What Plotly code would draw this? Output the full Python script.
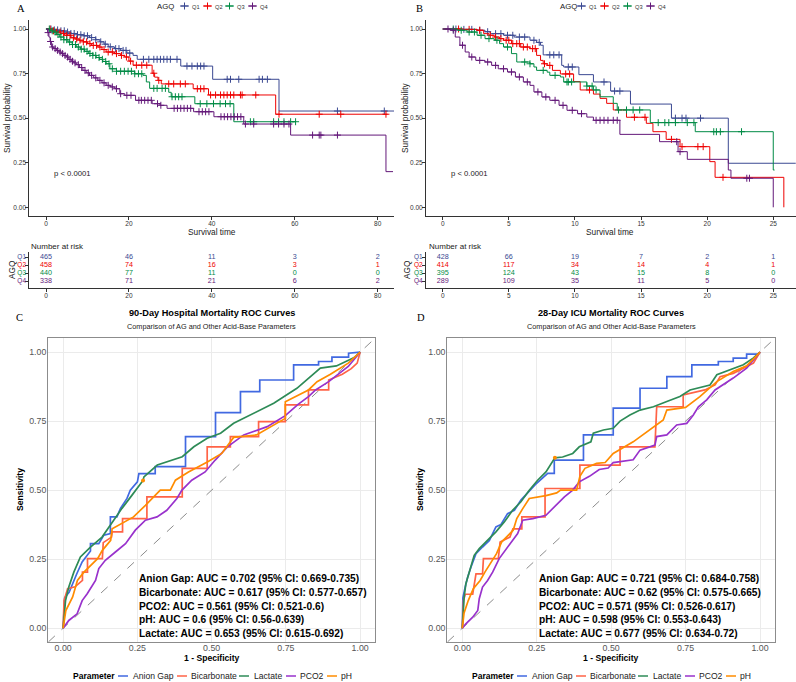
import numpy as np
import plotly.graph_objects as go

W, H = 796, 682
SANS = "Liberation Sans, Arial, sans-serif"
SERIF = "Liberation Serif, Times New Roman, serif"

# ---------------- groups ----------------
q_names = ["Q1", "Q2", "Q3", "Q4"]
q_colors = ["#3B4992", "#EE0000", "#008B45", "#631879"]

# ---------------- Panel A: KM (survival time up to ~84) ----------------
a_q1_time = [0, 1.5, 3, 4.5, 6, 7.5, 9, 10.5, 12, 13, 14, 15, 16.5, 18, 19.5, 21, 22, 32.5, 40.2, 56.2]
a_q1_surv = [1.0, 0.995, 0.99, 0.983, 0.975, 0.968, 0.962, 0.952, 0.94, 0.928, 0.915, 0.9, 0.89, 0.88, 0.865, 0.852, 0.83, 0.792, 0.718, 0.54]
a_q1_end = 84.0
a_q1_cens = [1.2, 2.0, 2.8, 3.6, 4.4, 5.2, 6.0, 6.8, 7.6, 8.4, 9.2, 10.0, 11.0, 12.0, 13.2, 14.3, 15.5, 16.8, 17.6, 18.6, 19.3, 20.2,
             23.5, 24.8, 26.0, 26.8, 27.6, 28.4, 29.2, 30.0, 31.6, 34.0, 35.2, 36.5, 37.3, 38.1, 43.7, 44.5, 46.5, 51.4, 52.2, 53.4, 70.3, 81.6]

a_q2_time = [0, 1.5, 2.5, 3.5, 4.5, 6, 7, 8, 9, 10, 11, 12.5, 13.5, 14.5, 16.5, 18, 19, 20, 21, 25.6, 26.2, 27, 27.8, 35.5, 39.2, 55.4]
a_q2_surv = [1, 0.99, 0.983, 0.975, 0.965, 0.951, 0.944, 0.937, 0.928, 0.918, 0.908, 0.899, 0.885, 0.871, 0.862, 0.852, 0.843, 0.82, 0.797, 0.752, 0.73, 0.712, 0.692, 0.665, 0.63, 0.522]
a_q2_end = 82.4
a_q2_cens = [1.0, 1.8, 2.6, 3.4, 4.2, 5.0, 5.8, 6.6, 7.4, 8.2, 9.0, 9.8, 10.6, 11.4, 12.2, 13.0, 14.0, 15.0, 16.0, 17.0, 18.2, 19.4, 20.4,
             21.8, 23.1, 24.3, 26.0, 27.2, 29.6, 30.8, 32.4, 33.6, 36.5, 37.3, 38.1, 39.7, 40.9, 42.1, 42.9, 43.7, 44.5, 45.3, 46.9, 47.3,
             50.6, 56.2, 65.9, 71.1, 82.0]

a_q3_time = [0, 1, 1.7, 2.5, 3.3, 4.3, 5.3, 6.3, 7.3, 8.3, 9.3, 10.3, 11.3, 12.1, 12.9, 13.7, 14.5, 15.4, 17, 21.4, 23.4, 24.2, 25, 29.6, 30.2, 35.9, 45.3]
a_q3_surv = [1, 0.99, 0.983, 0.97, 0.955, 0.94, 0.927, 0.913, 0.899, 0.887, 0.875, 0.863, 0.852, 0.84, 0.83, 0.818, 0.805, 0.777, 0.763, 0.749, 0.74, 0.703, 0.667, 0.645, 0.62, 0.581, 0.48]
a_q3_end = 60.2
a_q3_cens = [0.8, 1.5, 2.2, 2.9, 3.6, 4.3, 5.0, 5.7, 6.4, 7.1, 7.8, 8.5, 9.2, 9.9, 10.6, 11.3, 12.0, 12.8, 13.6, 14.4, 15.2, 16.0, 17.0,
             18.0, 18.9, 19.8, 20.6, 21.4, 22.3, 23.1, 26.0, 26.8, 28.0, 28.8, 30.4, 31.2, 32.0, 32.8, 37.2, 38.8, 40.4, 42.0, 43.3, 44.4,
             49.3, 50.1, 54.9, 56.1, 57.4, 59.0, 60.2]

a_q4_time = [0, 0.4, 0.7, 1.0, 1.3, 1.9, 2.5, 3.1, 3.7, 4.3, 4.9, 5.5, 6.1, 6.7, 7.3, 8.1, 8.9, 9.7, 10.5, 11.5, 12.5, 13.5, 14.5, 15.5, 16.6, 17.8, 19, 21.6, 25.6, 27.5, 29.2, 35.6, 40.5, 47.7, 59, 82]
a_q4_surv = [1, 0.98, 0.955, 0.93, 0.899, 0.89, 0.88, 0.871, 0.862, 0.852, 0.843, 0.83, 0.819, 0.81, 0.8, 0.784, 0.768, 0.754, 0.74, 0.726, 0.712, 0.698, 0.684, 0.675, 0.665, 0.637, 0.628, 0.6, 0.581, 0.572, 0.555, 0.536, 0.508, 0.467, 0.405, 0.2]
a_q4_end = 83.7
a_q4_cens = [0.5, 1.1, 1.6, 2.2, 2.8, 3.4, 4.0, 4.6, 5.2, 5.8, 6.4, 7.0, 7.8, 8.6, 9.4, 10.2, 11.0, 12.0, 13.0, 14.0, 15.0, 16.0, 17.0,
             18.0, 19.5, 20.5, 22.4, 23.0, 23.8, 24.6, 25.4, 26.9, 27.7, 30.9, 31.7, 32.5, 33.3, 34.1, 34.9, 36.9, 37.7, 38.5, 39.3,
             42.2, 43.0, 43.8, 44.6, 45.4, 46.2, 47.0, 48.1, 50.1, 54.9, 56.1, 57.4, 58.6, 64.3, 65.9, 66.3, 70.3]

a_risk_times = [0, 20, 40, 60, 80]
a_risk_q1 = [465, 46, 11, 3, 2]
a_risk_q2 = [458, 74, 16, 3, 1]
a_risk_q3 = [440, 77, 11, 0, 0]
a_risk_q4 = [338, 71, 21, 6, 2]

# ---------------- Panel B: KM (survival time up to ~26) ----------------
b_q1_time = [0, 1.5, 2.6, 3.2, 3.6, 4.6, 5.4, 6.6, 7.1, 7.4, 7.6, 9.0, 9.15, 10.3, 11.4, 12.7, 14.2, 17.3, 21.6]
b_q1_surv = [1, 0.998, 0.993, 0.985, 0.974, 0.965, 0.955, 0.937, 0.925, 0.909, 0.855, 0.796, 0.787, 0.744, 0.703, 0.652, 0.579, 0.5, 0.247]
b_q1_end = 26.7
b_q1_cens = [1.0, 1.6, 2.2, 2.8, 3.4, 4.0, 4.4, 4.9, 5.3, 5.8, 6.2, 6.9, 7.3, 8.1, 8.4, 8.8, 9.5, 9.8, 12.2, 13.0, 13.4, 17.6, 18.1, 18.4, 19.5]

b_q2_time = [0, 1.6, 2.6, 3.1, 3.5, 3.9, 4.3, 4.6, 5.2, 5.9, 6.6, 7.1, 7.4, 7.6, 7.9, 8.3, 8.9, 9.9, 10.4, 11.4, 11.9, 12.4, 12.9, 13.9, 15.4, 15.9, 16.9, 17.95, 20.2, 20.6, 25.8]
b_q2_surv = [1, 0.998, 0.993, 0.974, 0.965, 0.955, 0.946, 0.937, 0.918, 0.899, 0.89, 0.852, 0.824, 0.805, 0.796, 0.768, 0.748, 0.705, 0.658, 0.635, 0.611, 0.583, 0.546, 0.505, 0.471, 0.424, 0.381, 0.34, 0.256, 0.168, 0.0]
b_q2_end = 25.8
b_q2_cens = [1.2, 2.0, 2.8, 3.6, 4.0, 4.4, 4.8, 5.0, 5.3, 5.6, 5.8, 6.1, 6.4, 6.8, 7.0, 7.7, 8.1, 9.3, 9.6, 11.1, 14.5, 15.3, 17.3, 18.1, 19.3, 19.7, 21.2]

b_q3_time = [0, 1.1, 1.85, 2.6, 3.2, 3.9, 4.3, 4.6, 5.2, 5.6, 6.6, 6.9, 7.1, 7.9, 8.1, 8.9, 9.15, 10.9, 11.4, 11.9, 12.9, 13.2, 15.7, 19.1, 25.0]
b_q3_surv = [1, 0.993, 0.983, 0.965, 0.946, 0.937, 0.918, 0.899, 0.862, 0.815, 0.805, 0.787, 0.768, 0.758, 0.74, 0.731, 0.703, 0.68, 0.658, 0.62, 0.583, 0.546, 0.475, 0.424, 0.209]
b_q3_end = 25.1
b_q3_cens = [0.8, 1.4, 2.0, 2.4, 2.9, 3.5, 4.1, 4.9, 6.2, 6.6, 7.6, 8.5, 9.4, 9.5, 9.75, 10.9, 11.3, 11.6, 13.3, 13.9, 14.4, 14.9,
             16.3, 16.8, 17.1, 17.6, 18.5, 19.0, 20.5, 20.7, 21.0, 22.6]

b_q4_time = [0, 0.6, 0.95, 1.3, 1.7, 2.0, 2.5, 3.2, 3.7, 4.2, 4.9, 5.5, 6.1, 6.6, 6.9, 7.5, 8.1, 8.8, 9.4, 10.2, 10.9, 11.4, 13.4, 16.4, 17.8, 18.5, 21.6, 21.8, 25.0]
b_q4_surv = [1, 0.993, 0.955, 0.909, 0.871, 0.843, 0.824, 0.815, 0.796, 0.777, 0.759, 0.731, 0.703, 0.684, 0.647, 0.619, 0.6, 0.572, 0.544, 0.525, 0.506, 0.488, 0.409, 0.368, 0.312, 0.269, 0.209, 0.163, 0.0]
b_q4_end = 25.0
b_q4_cens = [0.4, 0.8, 1.5, 2.2, 2.8, 3.4, 4.0, 4.6, 5.2, 5.8, 6.4, 7.2, 7.8, 8.5, 9.1, 9.8, 10.5, 11.6, 11.9, 12.2, 12.5, 12.9, 13.2, 17.7, 17.95, 23.0, 23.2]

b_risk_times = [0, 5, 10, 15, 20, 25]
b_risk_q1 = [428, 66, 19, 7, 2, 1]
b_risk_q2 = [414, 117, 34, 14, 4, 1]
b_risk_q3 = [395, 124, 43, 15, 8, 0]
b_risk_q4 = [289, 109, 35, 11, 5, 0]

# ---------------- ROC curves ----------------
roc_names = ["Anion Gap", "Bicarbonate", "Lactate", "PCO2", "pH"]
roc_colors = ["#4169E1", "#FF6347", "#2E8B57", "#9932CC", "#FF8C00"]

c_ag_x = [0, 0.005, 0.02, 0.035, 0.047, 0.064, 0.092, 0.092, 0.12, 0.137, 0.159, 0.159, 0.181, 0.193, 0.215, 0.226, 0.25, 0.255, 0.31, 0.31, 0.412, 0.412, 0.513, 0.513, 0.597, 0.597, 0.662, 0.662, 0.776, 0.776, 0.86, 0.86, 0.905, 0.905, 0.961, 0.961, 1.0]
c_ag_y = [0, 0.11, 0.13, 0.17, 0.20, 0.24, 0.28, 0.306, 0.306, 0.337, 0.343, 0.403, 0.403, 0.434, 0.47, 0.5, 0.53, 0.56, 0.56, 0.585, 0.585, 0.694, 0.694, 0.781, 0.781, 0.857, 0.857, 0.899, 0.899, 0.954, 0.954, 0.966, 0.966, 0.982, 0.982, 0.996, 1.0]
c_bic_x = [0, 0.003, 0.015, 0.04, 0.065, 0.065, 0.082, 0.082, 0.132, 0.135, 0.163, 0.165, 0.2, 0.2, 0.282, 0.282, 0.401, 0.401, 0.485, 0.485, 0.563, 0.563, 0.658, 0.658, 0.748, 0.748, 0.826, 0.826, 0.894, 0.894, 0.94, 0.97, 0.99, 1.0]
c_bic_y = [0, 0.1, 0.143, 0.15, 0.173, 0.203, 0.203, 0.252, 0.252, 0.31, 0.33, 0.349, 0.349, 0.397, 0.397, 0.476, 0.476, 0.579, 0.579, 0.657, 0.657, 0.694, 0.694, 0.748, 0.748, 0.809, 0.809, 0.863, 0.863, 0.899, 0.92, 0.94, 0.96, 1.0]
c_lac_x = [0, 0.008, 0.019, 0.036, 0.058, 0.092, 0.131, 0.165, 0.198, 0.232, 0.269, 0.272, 0.317, 0.401, 0.44, 0.485, 0.53, 0.574, 0.642, 0.709, 0.787, 0.866, 0.92, 0.96, 0.98, 1.0]
c_lac_y = [0, 0.1, 0.149, 0.203, 0.258, 0.294, 0.33, 0.385, 0.434, 0.482, 0.535, 0.548, 0.591, 0.621, 0.657, 0.688, 0.706, 0.742, 0.778, 0.815, 0.869, 0.942, 0.95, 0.97, 0.98, 1.0]
c_pco2_x = [0, 0.019, 0.047, 0.064, 0.081, 0.109, 0.12, 0.142, 0.176, 0.21, 0.243, 0.277, 0.316, 0.349, 0.383, 0.4, 0.433, 0.478, 0.512, 0.553, 0.608, 0.687, 0.748, 0.79, 0.826, 0.85, 0.894, 0.96, 1.0]
c_pco2_y = [0, 0.028, 0.052, 0.1, 0.125, 0.173, 0.216, 0.246, 0.276, 0.306, 0.355, 0.391, 0.403, 0.427, 0.47, 0.5, 0.536, 0.566, 0.609, 0.657, 0.7, 0.73, 0.77, 0.81, 0.839, 0.863, 0.893, 0.948, 1.0]
c_ph_x = [0, 0.009, 0.032, 0.048, 0.07, 0.116, 0.132, 0.16, 0.165, 0.2, 0.237, 0.277, 0.327, 0.361, 0.378, 0.422, 0.487, 0.534, 0.574, 0.651, 0.748, 0.748, 0.826, 0.855, 0.9, 0.96, 1.0]
c_ph_y = [0, 0.064, 0.113, 0.173, 0.203, 0.252, 0.282, 0.318, 0.36, 0.38, 0.403, 0.445, 0.5, 0.5, 0.536, 0.566, 0.603, 0.633, 0.691, 0.7, 0.76, 0.82, 0.863, 0.893, 0.92, 0.96, 1.0]
c_best_point = [0.269, 0.535]

d_ag_x = [0, 0.002, 0.01, 0.018, 0.029, 0.046, 0.068, 0.091, 0.113, 0.13, 0.152, 0.175, 0.197, 0.22, 0.245, 0.287, 0.309, 0.309, 0.407, 0.407, 0.507, 0.507, 0.597, 0.597, 0.687, 0.687, 0.771, 0.771, 0.86, 0.86, 0.91, 0.91, 0.955, 0.955, 0.994, 1.0]
d_ag_y = [0, 0.11, 0.15, 0.185, 0.221, 0.27, 0.294, 0.318, 0.367, 0.376, 0.415, 0.427, 0.464, 0.49, 0.52, 0.561, 0.561, 0.609, 0.609, 0.7, 0.7, 0.797, 0.797, 0.869, 0.869, 0.911, 0.911, 0.954, 0.954, 0.966, 0.966, 0.978, 0.978, 0.993, 0.993, 1.0]
d_bic_x = [0, 0.004, 0.01, 0.035, 0.046, 0.068, 0.071, 0.121, 0.127, 0.16, 0.17, 0.2, 0.2, 0.278, 0.278, 0.395, 0.395, 0.53, 0.53, 0.647, 0.653, 0.742, 0.742, 0.815, 0.849, 0.866, 0.91, 0.944, 0.978, 1.0]
d_bic_y = [0, 0.1, 0.123, 0.123, 0.197, 0.197, 0.252, 0.252, 0.312, 0.33, 0.36, 0.36, 0.403, 0.403, 0.506, 0.506, 0.591, 0.591, 0.657, 0.657, 0.802, 0.802, 0.845, 0.863, 0.881, 0.911, 0.923, 0.942, 0.96, 1.0]
d_lac_x = [0, 0.006, 0.012, 0.029, 0.04, 0.057, 0.085, 0.113, 0.141, 0.169, 0.197, 0.225, 0.253, 0.281, 0.311, 0.337, 0.371, 0.393, 0.432, 0.44, 0.474, 0.507, 0.53, 0.563, 0.597, 0.642, 0.687, 0.731, 0.765, 0.832, 0.855, 0.9, 0.944, 0.977, 1.0]
d_lac_y = [0, 0.11, 0.161, 0.221, 0.264, 0.288, 0.318, 0.349, 0.385, 0.427, 0.458, 0.5, 0.536, 0.566, 0.617, 0.62, 0.633, 0.657, 0.675, 0.706, 0.718, 0.724, 0.75, 0.772, 0.79, 0.802, 0.821, 0.839, 0.863, 0.881, 0.918, 0.936, 0.954, 0.978, 1.0]
d_pco2_x = [0, 0.012, 0.035, 0.052, 0.057, 0.068, 0.085, 0.102, 0.124, 0.152, 0.186, 0.203, 0.237, 0.281, 0.315, 0.343, 0.371, 0.393, 0.427, 0.46, 0.49, 0.507, 0.574, 0.597, 0.647, 0.653, 0.687, 0.72, 0.754, 0.776, 0.793, 0.821, 0.849, 0.91, 0.955, 0.977, 1.0]
d_pco2_y = [0, 0.016, 0.04, 0.064, 0.107, 0.149, 0.173, 0.203, 0.252, 0.294, 0.343, 0.391, 0.397, 0.409, 0.445, 0.476, 0.5, 0.53, 0.55, 0.575, 0.58, 0.6, 0.61, 0.645, 0.663, 0.694, 0.7, 0.736, 0.742, 0.772, 0.802, 0.827, 0.863, 0.906, 0.942, 0.972, 1.0]
d_ph_x = [0, 0.006, 0.02, 0.037, 0.06, 0.076, 0.115, 0.132, 0.171, 0.183, 0.203, 0.225, 0.281, 0.317, 0.33, 0.384, 0.395, 0.412, 0.451, 0.48, 0.507, 0.574, 0.675, 0.687, 0.75, 0.798, 0.855, 0.91, 0.955, 1.0]
d_ph_y = [0, 0.055, 0.1, 0.143, 0.173, 0.203, 0.27, 0.312, 0.355, 0.397, 0.433, 0.47, 0.48, 0.49, 0.5, 0.5, 0.55, 0.579, 0.597, 0.6, 0.633, 0.675, 0.754, 0.79, 0.8, 0.839, 0.893, 0.93, 0.95, 1.0]
d_best_point = [0.311, 0.617]

# AUC labels (text order as in the figure)
auc_label_names = ["Anion Gap", "Bicarbonate", "PCO2", "pH", "Lactate"]
c_auc = ["0.702", "0.617", "0.561", "0.6", "0.653"]
c_ci_low = ["0.669", "0.577", "0.521", "0.56", "0.615"]
c_ci_high = ["0.735", "0.657", "0.6", "0.639", "0.692"]
d_auc = ["0.721", "0.62", "0.571", "0.598", "0.677"]
d_ci_low = ["0.684", "0.575", "0.526", "0.553", "0.634"]
d_ci_high = ["0.758", "0.665", "0.617", "0.643", "0.72"]
auc_label_y = [0.18, 0.13, 0.08, 0.03, -0.02]

roc_ticks = [0, 0.25, 0.5, 0.75, 1.0]
roc_ticktext = ["0.00", "0.25", "0.50", "0.75", "1.00"]
km_yticks = [0, 0.25, 0.5, 0.75, 1.0]
km_yticktext = ["0.00", "0.25", "0.50", "0.75", "1.00"]
roc_range = [-0.05, 1.05]

fig = go.Figure()


def dom_x(a, b):
    return [a / W, b / W]


def dom_y(top, bottom):
    return [1 - bottom / H, 1 - top / H]


def step_value(times, surv, t):
    i = int(np.searchsorted(np.asarray(times, float), t, side="right")) - 1
    return surv[max(i, 0)]


def add_km(times, surv, end, cens, color, xa, ya):
    fig.add_trace(go.Scatter(x=list(times) + [end], y=list(surv) + [surv[-1]], mode="lines",
                             line=dict(color=color, width=1, shape="hv"), xaxis=xa, yaxis=ya,
                             showlegend=False, hoverinfo="skip"))
    fig.add_trace(go.Scatter(x=cens, y=[step_value(times, surv, c) for c in cens], mode="markers",
                             marker=dict(symbol="cross-thin", size=5, line=dict(color=color, width=1)),
                             xaxis=xa, yaxis=ya, showlegend=False, hoverinfo="skip"))


# KM A
for (t, s, e, c), col in zip([(a_q1_time, a_q1_surv, a_q1_end, a_q1_cens),
                              (a_q2_time, a_q2_surv, a_q2_end, a_q2_cens),
                              (a_q3_time, a_q3_surv, a_q3_end, a_q3_cens),
                              (a_q4_time, a_q4_surv, a_q4_end, a_q4_cens)], q_colors):
    add_km(t, s, e, c, col, "x", "y")
# KM B
for (t, s, e, c), col in zip([(b_q1_time, b_q1_surv, b_q1_end, b_q1_cens),
                              (b_q2_time, b_q2_surv, b_q2_end, b_q2_cens),
                              (b_q3_time, b_q3_surv, b_q3_end, b_q3_cens),
                              (b_q4_time, b_q4_surv, b_q4_end, b_q4_cens)], q_colors):
    add_km(t, s, e, c, col, "x3", "y3")

# risk tables
for rows, times, xa, ya in [([a_risk_q1, a_risk_q2, a_risk_q3, a_risk_q4], a_risk_times, "x2", "y2"),
                            ([b_risk_q1, b_risk_q2, b_risk_q3, b_risk_q4], b_risk_times, "x4", "y4")]:
    for k, (vals, col) in enumerate(zip(rows, q_colors)):
        fig.add_trace(go.Scatter(x=times, y=[4 - k] * len(times), mode="text", text=[str(v) for v in vals],
                                 textfont=dict(size=7.2, color=col, family=SANS), textposition="middle center",
                                 xaxis=xa, yaxis=ya, showlegend=False, hoverinfo="skip"))

# ROC curves
c_curves = [(c_ag_x, c_ag_y), (c_bic_x, c_bic_y), (c_lac_x, c_lac_y), (c_pco2_x, c_pco2_y), (c_ph_x, c_ph_y)]
d_curves = [(d_ag_x, d_ag_y), (d_bic_x, d_bic_y), (d_lac_x, d_lac_y), (d_pco2_x, d_pco2_y), (d_ph_x, d_ph_y)]
for curves, best, xa, ya in [(c_curves, c_best_point, "x5", "y5"), (d_curves, d_best_point, "x6", "y6")]:
    fig.add_trace(go.Scatter(x=roc_range, y=roc_range, mode="lines",
                             line=dict(color="#8C8C8C", width=1, dash="dash"),
                             xaxis=xa, yaxis=ya, showlegend=False, hoverinfo="skip"))
    for (cx, cy), col in zip(curves, roc_colors):
        fig.add_trace(go.Scatter(x=cx, y=cy, mode="lines", line=dict(color=col, width=1.7),
                                 xaxis=xa, yaxis=ya, showlegend=False, hoverinfo="skip"))
    fig.add_trace(go.Scatter(x=[best[0]], y=[best[1]], mode="markers",
                             marker=dict(color="#FF8C00", size=4), xaxis=xa, yaxis=ya,
                             showlegend=False, hoverinfo="skip"))

# AUC annotations
for auc, lo, hi, xr, yr in [(c_auc, c_ci_low, c_ci_high, "x5", "y5"), (d_auc, d_ci_low, d_ci_high, "x6", "y6")]:
    for name, a, l, h, yy in zip(auc_label_names, auc, lo, hi, auc_label_y):
        fig.add_annotation(x=0.25, y=yy, xref=xr, yref=yr, showarrow=False, xanchor="left", yanchor="middle",
                           text=f"<b>{name}: AUC = {a} (95% CI: {l}-{h})</b>",
                           font=dict(size=10.2, color="#000000", family=SANS))


# -------- overlay (pixel) helpers for text and legend keys --------
def note(x, y, text, size, color="#000000", bold=False, xanchor="center", angle=0, family=SANS):
    fig.add_annotation(x=x, y=y, xref="x7", yref="y7", text=f"<b>{text}</b>" if bold else text,
                       showarrow=False, font=dict(size=size, color=color, family=family),
                       xanchor=xanchor, yanchor="middle", textangle=angle, borderpad=0)


def key_line(x0, x1, y, color, width, cross=False):
    fig.add_trace(go.Scatter(x=[x0, x1], y=[y, y], mode="lines", line=dict(color=color, width=width),
                             xaxis="x7", yaxis="y7", showlegend=False, hoverinfo="skip"))
    if cross:
        fig.add_trace(go.Scatter(x=[(x0 + x1) / 2], y=[y], mode="markers",
                                 marker=dict(symbol="cross-thin", size=5, line=dict(color=color, width=1)),
                                 xaxis="x7", yaxis="y7", showlegend=False, hoverinfo="skip"))


# panel letters
note(21, 8, "A", 10.5, family=SERIF)
note(419, 8, "B", 10.5, family=SERIF)
note(19, 317, "C", 10.5, family=SERIF)
note(421, 317, "D", 10.5, family=SERIF)

# KM legends
for title_x, key_starts in [(156, [180, 203, 225, 248]), (559, [577, 600, 623, 646])]:
    note(title_x, 6, "AGQ", 7.8, color="#222222", xanchor="left")
    for k0, name, col in zip(key_starts, q_names, q_colors):
        key_line(k0, k0 + 9, 6, col, 1, cross=True)
        note(k0 + 11, 6.5, name, 5.7, color="#333333", xanchor="left")

# KM axis titles etc.
for cx, ylab_x, p_x, nar_x, agq_x in [(212, 7, 53, 30, 12), (610, 405, 450, 428, 407)]:
    note(cx, 232, "Survival time", 8.3, color="#222222")
    note(ylab_x, 118, "Survival probability", 8.3, color="#222222", angle=-90)
    note(p_x, 173, "p &lt; 0.0001", 7.7, color="#222222", xanchor="left")
    note(nar_x, 246, "Number at risk", 8.0, color="#222222", xanchor="left")
    note(agq_x, 270, "AGQ", 8.3, color="#222222", angle=-90)

# ROC titles, axis titles and legends
note(211.7, 313.3, "90-Day Hospital Mortality ROC Curves", 9.2, bold=True)
note(211.7, 326, "Comparison of AG and Other Acid-Base Parameters", 7.3, color="#222222")
note(611, 313.3, "28-Day ICU Mortality ROC Curves", 9.2, bold=True)
note(611, 326, "Comparison of AG and Other Acid-Base Parameters", 7.3, color="#222222")

for cx, sens_x, leg_x, key_starts, text_starts in [
        (211.7, 20, 72, [118, 177, 239, 286, 327], [132, 190, 253, 299, 340]),
        (611, 420, 471, [517, 576, 638, 685, 726], [531, 589, 652, 698, 739])]:
    note(cx, 658, "1 - Specificity", 8.6, bold=True)
    note(sens_x, 490, "Sensitivity", 8.6, bold=True, angle=-90)
    note(leg_x, 676, "Parameter", 8.5, bold=True, xanchor="left")
    for k0, t0, name, col in zip(key_starts, text_starts, roc_names, roc_colors):
        key_line(k0, k0 + 10, 676, col, 1.5)
        note(t0, 676, name, 8.6, color="#222222", xanchor="left")

# -------- axes --------
km_axis = dict(showline=True, linecolor="#333333", linewidth=1, ticks="outside", ticklen=3, tickwidth=1,
               tickcolor="#333333", tickfont=dict(size=6.5, color="#333333", family=SANS), showgrid=False,
               zeroline=False, fixedrange=True, ticklabelstandoff=-2)
roc_axis = dict(showline=True, mirror=True, linecolor="#8C8C8C", linewidth=1.2, ticks="", ticklen=0,
                showgrid=True, gridcolor="#EBEBEB", gridwidth=1, zeroline=False, range=roc_range,
                tickvals=roc_ticks, ticktext=roc_ticktext,
                tickfont=dict(size=8.8, color="#555555", family=SANS), fixedrange=True)

risk_ticktext = [f'<span style="color:{c}">{n}</span>' for n, c in zip(q_names, q_colors)]

a_xrange = [-4.03, 83.94]
b_xrange = [-1.263, 26.72]

fig.update_layout(
    xaxis=dict(km_axis, domain=dom_x(29.3, 394), range=a_xrange, tickvals=a_risk_times, anchor="y"),
    yaxis=dict(km_axis, domain=dom_y(20.1, 216.2), range=[-0.05, 1.05], tickvals=km_yticks,
               ticktext=km_yticktext, anchor="x"),
    xaxis2=dict(km_axis, domain=dom_x(29.3, 394), range=a_xrange, tickvals=a_risk_times, anchor="y2"),
    yaxis2=dict(km_axis, domain=dom_y(252, 288), range=[0.125, 4.625], tickvals=[4, 3, 2, 1],
                ticktext=risk_ticktext, anchor="x2"),
    xaxis3=dict(km_axis, domain=dom_x(426, 796), range=b_xrange, tickvals=b_risk_times, anchor="y3"),
    yaxis3=dict(km_axis, domain=dom_y(20.1, 216.2), range=[-0.05, 1.05], tickvals=km_yticks,
                ticktext=km_yticktext, anchor="x3"),
    xaxis4=dict(km_axis, domain=dom_x(426, 796), range=b_xrange, tickvals=b_risk_times, anchor="y4"),
    yaxis4=dict(km_axis, domain=dom_y(252, 288), range=[0.125, 4.625], tickvals=[4, 3, 2, 1],
                ticktext=risk_ticktext, anchor="x4"),
    xaxis5=dict(roc_axis, domain=dom_x(48.3, 375), anchor="y5", ticklabelstandoff=-3),
    yaxis5=dict(roc_axis, domain=dom_y(338.3, 642), anchor="x5", ticklabelstandoff=-1),
    xaxis6=dict(roc_axis, domain=dom_x(447.4, 774.9), anchor="y6", ticklabelstandoff=-3),
    yaxis6=dict(roc_axis, domain=dom_y(338.3, 642), anchor="x6", ticklabelstandoff=-1),
    xaxis7=dict(domain=[0, 1], range=[0, W], visible=False, fixedrange=True, anchor="y7"),
    yaxis7=dict(domain=[0, 1], range=[H, 0], visible=False, fixedrange=True, anchor="x7"),
    width=W, height=H, margin=dict(l=0, r=0, t=0, b=0),
    paper_bgcolor="white", plot_bgcolor="rgba(0,0,0,0)", showlegend=False,
    font=dict(family=SANS, color="#222222"),
)

fig.write_html("out.html", config={"displayModeBar": False, "staticPlot": True})
